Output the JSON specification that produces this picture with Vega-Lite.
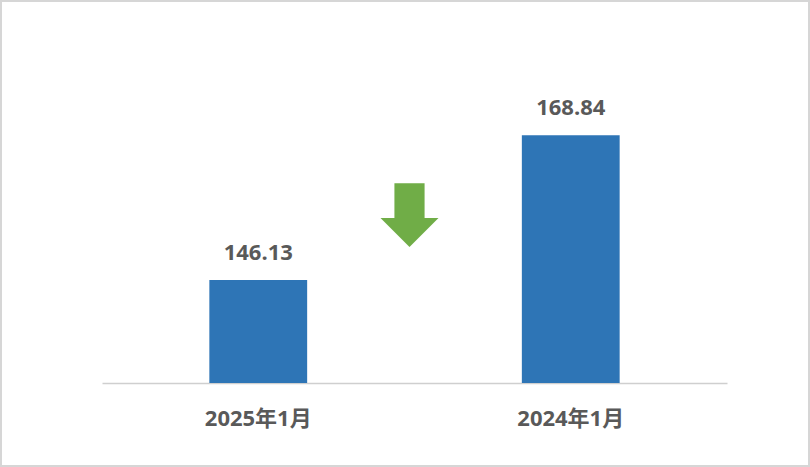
{
  "$schema": "https://vega.github.io/schema/vega-lite/v6.json",
  "width": 810,
  "height": 467,
  "autosize": "none",
  "padding": 0,
  "background": "#ffffff",
  "datasets": {
    "bars": [
      {"month": "2025年1月", "value": 146.13, "base": 130},
      {"month": "2024年1月", "value": 168.84, "base": 130}
    ],
    "arrow": [
      {"pos": 0.492, "value": 156.3}
    ]
  },
  "layer": [
    {
      "data": {"name": "bars"},
      "mark": {"type": "bar", "color": "#2E75B6"},
      "encoding": {
        "x": {
          "field": "month",
          "type": "nominal",
          "sort": null,
          "scale": {"range": [102, 727], "paddingInner": 0.687, "paddingOuter": 0.3435},
          "axis": {
            "title": null,
            "orient": "bottom",
            "offset": -84,
            "ticks": false,
            "labelPadding": 25,
            "labelAngle": 0,
            "labelFont": "Open Sans, Noto Sans CJK SC",
            "labelFontSize": 22,
            "labelFontWeight": "bold",
            "labelColor": "#595959",
            "domainColor": "#cfcfcf",
            "domainWidth": 1.5,
            "grid": false
          }
        },
        "y": {
          "field": "value",
          "type": "quantitative",
          "scale": {"domain": [130, 180], "range": [383, 64], "zero": false},
          "axis": null
        },
        "y2": {"field": "base"}
      }
    },
    {
      "data": {"name": "bars"},
      "mark": {
        "type": "text",
        "baseline": "alphabetic",
        "dy": -20,
        "font": "Open Sans",
        "fontSize": 22,
        "fontWeight": "bold",
        "color": "#595959"
      },
      "encoding": {
        "x": {
          "field": "month",
          "type": "nominal",
          "sort": null,
          "scale": {"range": [102, 727], "paddingInner": 0.687, "paddingOuter": 0.3435},
          "axis": null
        },
        "y": {
          "field": "value",
          "type": "quantitative",
          "scale": {"domain": [130, 180], "range": [383, 64], "zero": false},
          "axis": null
        },
        "text": {"field": "value", "type": "quantitative", "format": ".2f"}
      }
    },
    {
      "data": {"name": "arrow"},
      "mark": {
        "type": "point",
        "shape": "M -0.52 -1.1 L 0.52 -1.1 L 0.52 0.1 L 1 0.1 L 0 1.1 L -1 0.1 L -0.52 0.1 Z",
        "size": 3364,
        "filled": true,
        "opacity": 1,
        "color": "#70AD47"
      },
      "encoding": {
        "x": {
          "field": "pos",
          "type": "quantitative",
          "scale": {"domain": [0, 1], "range": [102, 727], "zero": false, "nice": false},
          "axis": null
        },
        "y": {
          "field": "value",
          "type": "quantitative",
          "scale": {"domain": [130, 180], "range": [383, 64], "zero": false},
          "axis": null
        }
      }
    }
  ],
  "resolve": {"scale": {"x": "independent"}, "axis": {"x": "independent"}},
  "config": {
    "view": {"stroke": "#d6d6d6", "strokeWidth": 4},
    "axis": {"grid": false}
  }
}
